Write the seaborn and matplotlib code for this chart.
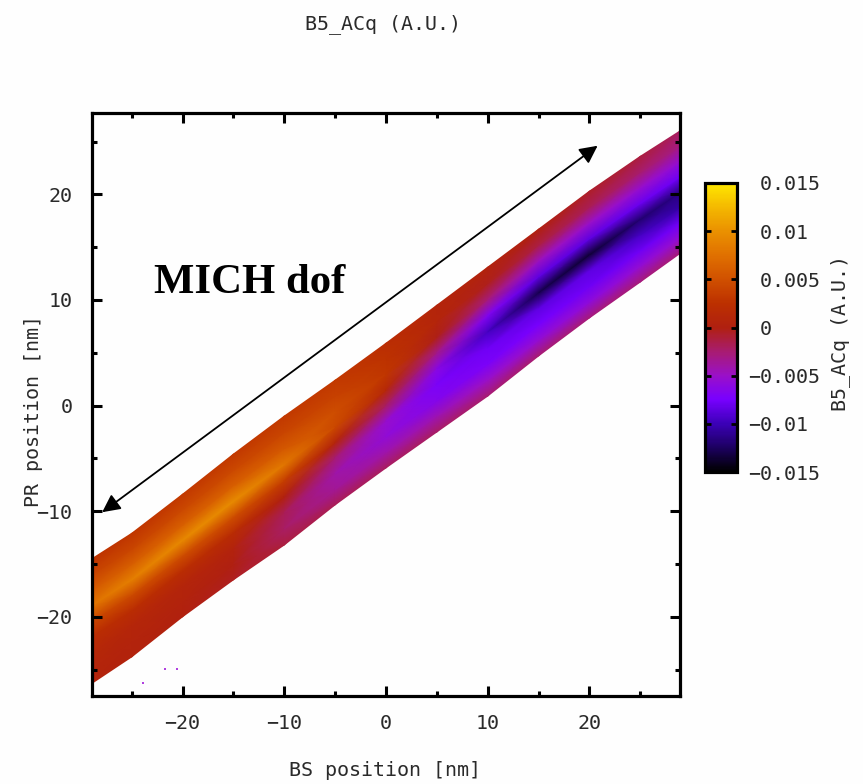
import numpy as np
import seaborn as sns
import matplotlib
matplotlib.use("Agg")
import matplotlib.pyplot as plt

# Data
bs_positions = [-28.9, -25, -20, -15, -10, -5, 0, 5, 10, 15, 20, 25, 28.9]
band_lower = [-26.3, -23.8, -20.0, -16.5, -13.2, -9.4, -5.9, -2.5, 0.9, 4.7, 8.3, 11.7, 14.4]
band_upper = [-14.5, -12.1, -8.4, -4.6, -1.0, 2.4, 5.9, 9.5, 13.1, 16.7, 20.3, 23.6, 26.0]
# fraction of the band's height, bottom to top, at which each signal value was read
band_fraction = [0, .125, .25, .375, .5, .625, .75, .875, 1]
signal = [
    [.0006, .0008, .0012, .0020, .0042, .0078, .0058, .0040, .0028],
    [.0004, .0006, .0010, .0020, .0045, .0086, .0060, .0042, .0030],
    [.0002, .0004, .0008, .0020, .0048, .0094, .0062, .0044, .0032],
    [-.0004, -.0001, .0005, .0018, .0048, .0096, .0062, .0044, .0032],
    [-.0012, -.0022, -.0018, .0002, .0036, .0080, .0056, .0042, .0032],
    [-.0018, -.0036, -.0040, -.0026, .0008, .0044, .0048, .0038, .0032],
    [-.0020, -.0042, -.0056, -.0052, -.0022, .0012, .0030, .0026, .0020],
    [-.0022, -.0044, -.0066, -.0072, -.0062, -.0032, -.0002, .0008, .0008],
    [-.0025, -.0050, -.0072, -.0078, -.0095, -.0068, -.0028, -.0003, .0004],
    [-.0025, -.0055, -.0075, -.0085, -.0130, -.0085, -.0048, -.0014, .0000],
    [-.0028, -.0058, -.0078, -.0085, -.0135, -.0085, -.0050, -.0018, -.0006],
    [-.0028, -.0055, -.0078, -.0095, -.0120, -.0080, -.0052, -.0024, -.0012],
    [-.0028, -.0055, -.0078, -.0105, -.0115, -.0078, -.0055, -.0030, -.0020],
]
stray_x = [-23.9, -21.7, -20.5]
stray_y = [-26.3, -24.9, -24.9]
palette_colors = ["#000000", "#1c0060", "#3c00b8", "#7800ff", "#9a10c8", "#a81c70", "#b02010",
                  "#bc3000", "#d05000", "#e07000", "#ea9000", "#f4b800", "#ffe800"]
xticks = [-20, -10, 0, 10, 20]
yticks = [-20, -10, 0, 10, 20]
minor_ticks = [-25, -15, -5, 5, 15, 25]
cbar_ticks = [-.015, -.01, -.005, 0, .005, .01, .015]
cbar_labels = ["\u22120.015", "\u22120.01", "\u22120.005", " 0", " 0.005", " 0.01", " 0.015"]

sns.set_style("white")
MONO = "DejaVu Sans Mono"
plt.rcParams["font.family"] = [MONO]
INK = "#2a2a2a"
W, H = 863, 784
fig = plt.figure(figsize=(W / 100, H / 100), dpi=100, facecolor="#fefefe")


def px_axes(l, t, r, b):
    return fig.add_axes([l / W, 1 - b / H, (r - l) / W, (b - t) / H])


ax = px_axes(92, 113, 680, 696)
ax.set_facecolor("#fefefe")
cmap = sns.blend_palette(palette_colors, n_colors=256, as_cmap=True)

frac = np.array(band_fraction)
xs = np.array(bs_positions)
lo = np.array(band_lower)
up = np.array(band_upper)
X = np.repeat(xs[:, None], len(frac), axis=1)
Y = lo[:, None] + (up - lo)[:, None] * frac[None, :]
mesh = ax.pcolormesh(X, Y, np.array(signal), shading="gouraud", cmap=cmap, vmin=-.015, vmax=.015, zorder=1)
sns.scatterplot(x=stray_x, y=stray_y, color="#b040e0", s=3, linewidth=0, marker="s", ax=ax, zorder=2)

ax.set_xlim(-28.9, 28.9)
ax.set_ylim(-27.5, 27.7)
ax.set_axisbelow(False)
ax.set_xticks(xticks)
ax.set_yticks(yticks)
ax.set_xticks(minor_ticks, minor=True)
ax.set_yticks(minor_ticks, minor=True)
ax.set_xticklabels([str(v).replace("-", "\u2212") for v in xticks])
ax.set_yticklabels([str(v).replace("-", "\u2212") for v in yticks])
ax.tick_params(which="major", direction="in", length=7, width=2.2, top=True, right=True, bottom=True, left=True,
               labelsize=14.4, labelcolor=INK, color="black", pad=13)
ax.tick_params(axis="y", which="major", pad=14)
ax.tick_params(which="minor", direction="in", length=3.5, width=2.2, top=True, right=True, bottom=True, left=True,
               color="black")
for s in ax.spines.values():
    s.set_linewidth(2.3)
    s.set_color("black")
    s.set_visible(True)

ax.annotate("", xy=(20.8, 24.6), xytext=(-27.9, -10.1),
            arrowprops=dict(arrowstyle="<|-|>", color="black", lw=1.3, mutation_scale=27, shrinkA=0, shrinkB=0))
fig.text(154 / W, 1 - 293 / H, "MICH dof", family="Liberation Serif", weight="bold", fontsize=30.8, color="black",
         ha="left", va="baseline")

fig.text(383 / W, 1 - 24 / H, "B5_ACq (A.U.)", fontsize=14.4, color=INK, ha="center", va="center")
fig.text(385 / W, 1 - 771 / H, "BS position [nm]", fontsize=14.4, color=INK, ha="center", va="center")
fig.text(34 / W, 1 - 411 / H, "PR position [nm]", fontsize=14.4, color=INK, ha="center", va="center", rotation=90)
fig.text(840 / W, 1 - 333 / H, "B5_ACq (A.U.)", fontsize=14.4, color=INK, ha="center", va="center", rotation=90)

cax = px_axes(705, 183, 737, 472)
cb = fig.colorbar(mesh, cax=cax)
cb.solids.set_rasterized(False)
cb.set_ticks(cbar_ticks)
cb.set_ticklabels(cbar_labels)
cb.outline.set_linewidth(2.3)
cb.outline.set_edgecolor("black")
cax.set_axisbelow(False)
cax.tick_params(which="major", direction="in", length=4, width=2, left=True, right=True, color="black",
                labelsize=14.4, labelcolor=INK, pad=8)
cax.minorticks_off()

fig.savefig("out.png", dpi=100, facecolor=fig.get_facecolor())
